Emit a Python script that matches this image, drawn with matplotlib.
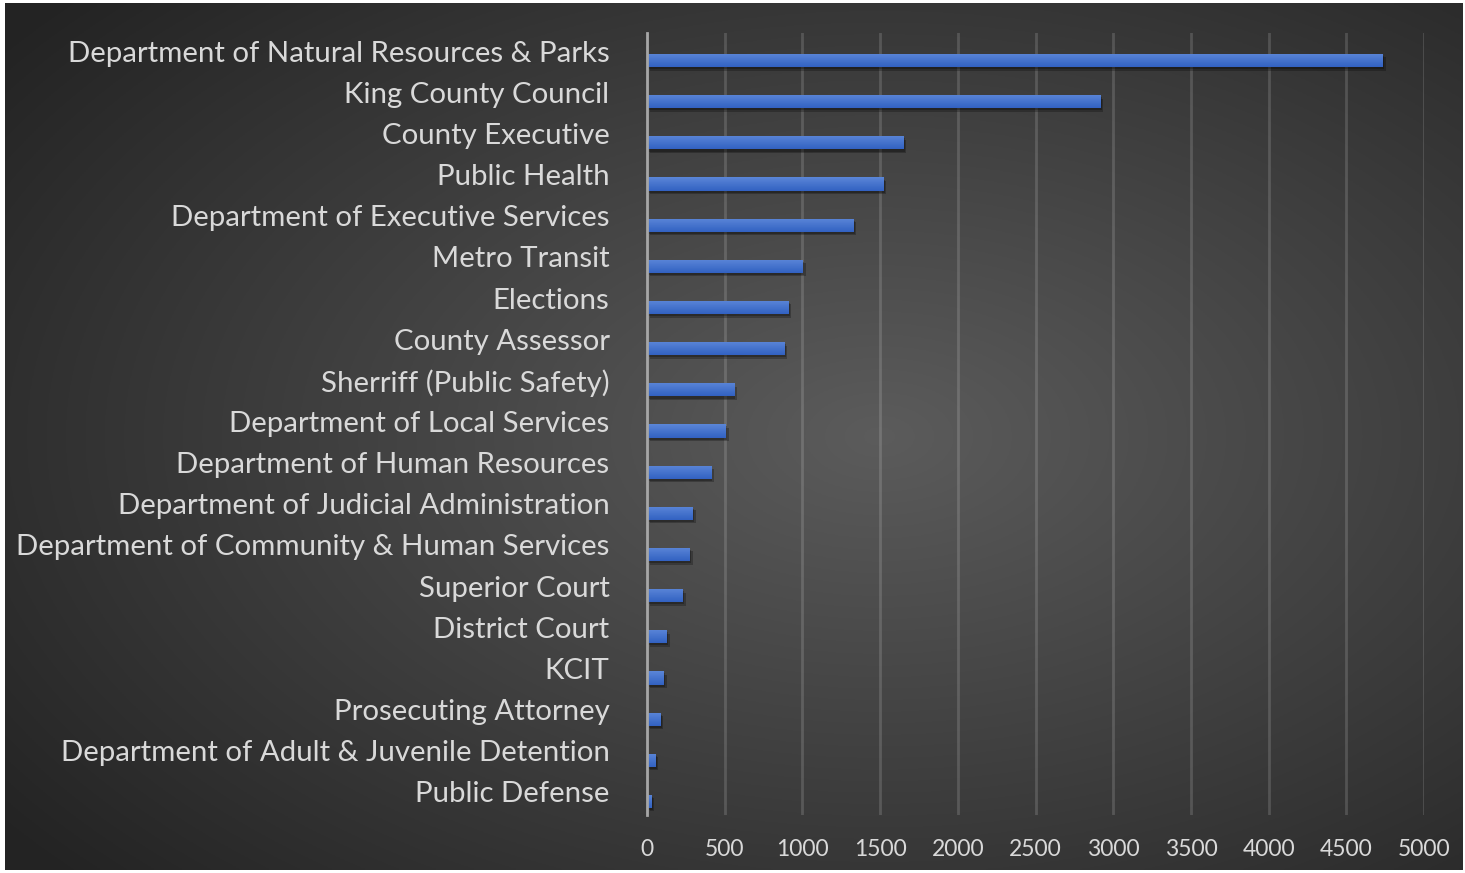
import matplotlib as mpl
import matplotlib.pyplot as plt
import matplotlib.patheffects as pe
import numpy as np

mpl.rcParams['font.family'] = ['Lato', 'DejaVu Sans']

# departamentos, de cima para baixo
depts = ['Department of Natural Resources & Parks', 'King County Council',
         'County Executive', 'Public Health', 'Department of Executive Services',
         'Metro Transit', 'Elections', 'County Assessor', 'Sherriff (Public Safety)',
         'Department of Local Services', 'Department of Human Resources',
         'Department of Judicial Administration',
         'Department of Community & Human Services', 'Superior Court',
         'District Court', 'KCIT', 'Prosecuting Attorney',
         'Department of Adult & Juvenile Detention', 'Public Defense']
serie1 = [4735, 2918, 1652, 1522, 1330, 1003, 910, 883, 560, 508, 412,
          295, 276, 231, 128, 108, 88, 56, 30]
serie2 = [6, 6, 6, 6, 6, 6, 6, 6, 6, 6, 6, 6, 6, 6, 6, 6, 6, 6, 6]
xticks = [0, 500, 1000, 1500, 2000, 2500, 3000, 3500, 4000, 4500, 5000]

W, H = 1465, 873
fig = plt.figure(figsize=(W/100, H/100), dpi=100, facecolor='white')

# fundo com gradiente radial
bg = fig.add_axes([5/W, 3/H, 1458/W, 867/H])
yy, xx = np.mgrid[0:1:400j, 0:1:700j]
r = np.sqrt(((xx-0.6)/0.75)**2 + ((yy-0.5)/0.75)**2)
r = np.clip(r, 0, 1)
c0, c1 = np.array([0.36, 0.36, 0.36]), np.array([0.14, 0.14, 0.14])
img = c0[None, None, :]*(1-r[..., None]) + c1[None, None, :]*r[..., None]
bg.imshow(img, aspect='auto', extent=[0, 1, 0, 1], origin='upper')
bg.set_axis_off()

ax = fig.add_axes([647/W, 1-815/H, (1424-647)/W, (815-33)/H])
ax.set_facecolor('none')

y = np.arange(len(depts))
h = 0.32
shadow = [pe.SimplePatchShadow(offset=(2, -2.5), shadow_rgbFace='black', alpha=0.25),
          pe.SimplePatchShadow(offset=(1, -1.5), shadow_rgbFace='black', alpha=0.25),
          pe.Normal()]
bars = ax.barh(y + 0.17, serie1, height=h, color='#4472c4', zorder=3, path_effects=shadow)
ax.barh(y - 0.17, serie2, height=h, color='#ed7d31', zorder=3, alpha=0.7)

# gradiente nas barras
grad = np.linspace(0, 1, 50)[:, None]
cmap = mpl.colors.LinearSegmentedColormap.from_list('b', ['#5b86d8', '#3262c2'])
for b in bars:
    x0, y0 = b.get_x(), b.get_y()
    im = ax.imshow(grad, cmap=cmap, aspect='auto', zorder=4,
                   extent=[x0, x0 + b.get_width(), y0 + b.get_height(), y0])
    im.set_clip_path(b)

ax.set_xlim(0, 5000)
ax.set_ylim(len(depts) - 0.5, -0.5)
ax.set_xticks(xticks)
ax.set_yticks(y)
ax.set_yticklabels(depts, va='center')
ax.tick_params(axis='y', length=0, pad=27, labelsize=21.2, labelcolor='#d9d9d9')
ax.tick_params(axis='x', length=0, pad=17, labelsize=16.5, labelcolor='#d9d9d9')
ax.grid(axis='x', color='#ffffff', alpha=0.15, linewidth=2, zorder=0)
for s in ['top', 'right', 'bottom']:
    ax.spines[s].set_visible(False)
ax.spines['left'].set_color('#a6a6a6')
ax.spines['left'].set_linewidth(2)
ax.spines['left'].set_zorder(5)

plt.savefig('out.png', dpi=100, facecolor='white')
plt.close()
